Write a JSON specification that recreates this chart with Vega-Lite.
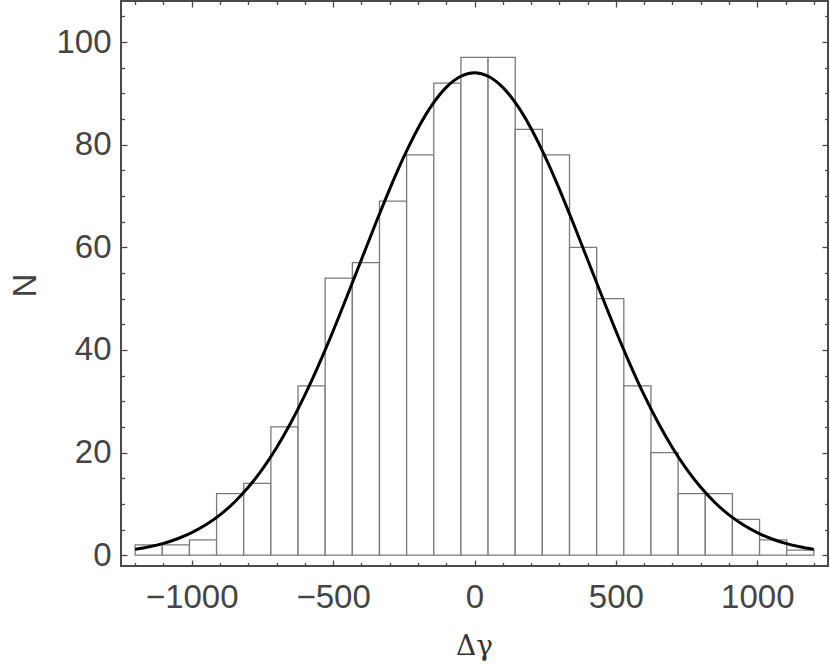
{
  "$schema": "https://vega.github.io/schema/vega-lite/v6.json",
  "width": 707,
  "height": 565,
  "autosize": {"type": "none"},
  "padding": {"left": 121, "top": 1, "right": 2, "bottom": 99},
  "background": "white",
  "config": {
    "view": {"stroke": "#4a4a4a", "strokeWidth": 2},
    "axis": {
      "grid": false,
      "domain": false,
      "tickColor": "#4a4a4a",
      "tickWidth": 1.3,
      "labelFont": "Liberation Sans",
      "labelFontSize": 33,
      "labelColor": "#444444",
      "labelOverlap": false,
      "labelFlush": false,
      "labelBound": false,
      "titleFontWeight": "normal"
    },
    "axisBottom": {
      "titleFont": "DejaVu Serif",
      "titleFontSize": 28,
      "titleColor": "#333333"
    },
    "axisLeft": {
      "titleFont": "Liberation Sans",
      "titleFontSize": 33,
      "titleColor": "#444444"
    }
  },
  "datasets": {
    "bins": [
      {"x0": -1200, "x1": -1104, "n": 2},
      {"x0": -1104, "x1": -1008, "n": 2},
      {"x0": -1008, "x1": -912, "n": 3},
      {"x0": -912, "x1": -816, "n": 12},
      {"x0": -816, "x1": -720, "n": 14},
      {"x0": -720, "x1": -624, "n": 25},
      {"x0": -624, "x1": -528, "n": 33},
      {"x0": -528, "x1": -432, "n": 54},
      {"x0": -432, "x1": -336, "n": 57},
      {"x0": -336, "x1": -240, "n": 69},
      {"x0": -240, "x1": -144, "n": 78},
      {"x0": -144, "x1": -48, "n": 92},
      {"x0": -48, "x1": 48, "n": 97},
      {"x0": 48, "x1": 144, "n": 97},
      {"x0": 144, "x1": 240, "n": 83},
      {"x0": 240, "x1": 336, "n": 78},
      {"x0": 336, "x1": 432, "n": 60},
      {"x0": 432, "x1": 528, "n": 50},
      {"x0": 528, "x1": 624, "n": 33},
      {"x0": 624, "x1": 720, "n": 20},
      {"x0": 720, "x1": 816, "n": 12},
      {"x0": 816, "x1": 912, "n": 12},
      {"x0": 912, "x1": 1008, "n": 7},
      {"x0": 1008, "x1": 1104, "n": 3},
      {"x0": 1104, "x1": 1200, "n": 1}
    ],
    "curve": [
      {"x": -1200, "y": 1.14},
      {"x": -1150, "y": 1.64},
      {"x": -1100, "y": 2.31},
      {"x": -1050, "y": 3.21},
      {"x": -1000, "y": 4.39},
      {"x": -950, "y": 5.92},
      {"x": -900, "y": 7.86},
      {"x": -850, "y": 10.28},
      {"x": -800, "y": 13.23},
      {"x": -750, "y": 16.78},
      {"x": -700, "y": 20.95},
      {"x": -650, "y": 25.76},
      {"x": -600, "y": 31.2},
      {"x": -550, "y": 37.21},
      {"x": -500, "y": 43.7},
      {"x": -450, "y": 50.55},
      {"x": -400, "y": 57.58},
      {"x": -350, "y": 64.59},
      {"x": -300, "y": 71.35},
      {"x": -250, "y": 77.62},
      {"x": -200, "y": 83.16},
      {"x": -150, "y": 87.74},
      {"x": -100, "y": 91.16},
      {"x": -50, "y": 93.28},
      {"x": 0, "y": 94},
      {"x": 50, "y": 93.28},
      {"x": 100, "y": 91.16},
      {"x": 150, "y": 87.74},
      {"x": 200, "y": 83.16},
      {"x": 250, "y": 77.62},
      {"x": 300, "y": 71.35},
      {"x": 350, "y": 64.59},
      {"x": 400, "y": 57.58},
      {"x": 450, "y": 50.55},
      {"x": 500, "y": 43.7},
      {"x": 550, "y": 37.21},
      {"x": 600, "y": 31.2},
      {"x": 650, "y": 25.76},
      {"x": 700, "y": 20.95},
      {"x": 750, "y": 16.78},
      {"x": 800, "y": 13.23},
      {"x": 850, "y": 10.28},
      {"x": 900, "y": 7.86},
      {"x": 950, "y": 5.92},
      {"x": 1000, "y": 4.39},
      {"x": 1050, "y": 3.21},
      {"x": 1100, "y": 2.31},
      {"x": 1150, "y": 1.64},
      {"x": 1200, "y": 1.14}
    ]
  },
  "resolve": {"axis": {"x": "independent", "y": "independent"}},
  "layer": [
    {
      "data": {"name": "bins"},
      "mark": {"type": "rect", "fill": "white", "stroke": "#7a7a7a", "strokeWidth": 1.3},
      "encoding": {
        "x": {
          "field": "x0", "type": "quantitative",
          "scale": {"domain": [-1250, 1250], "nice": false, "zero": false},
          "axis": {
            "orient": "bottom",
            "format": "d",
            "values": [-1200, -1100, -1000, -900, -800, -700, -600, -500, -400, -300, -200, -100, 0, 100, 200, 300, 400, 500, 600, 700, 800, 900, 1000, 1100, 1200],
            "labelExpr": "datum.value % 500 === 0 ? datum.label : ''",
            "tickSize": {"condition": {"test": "datum.value % 500 === 0", "value": -6}, "value": -3.5},
            "labelPadding": 21,
            "title": "Δγ",
            "titleFont": "DejaVu Serif",
            "titleFontSize": 28,
            "titleBaseline": "alphabetic",
            "titleX": 353,
            "titleY": 88
          }
        },
        "x2": {"field": "x1"},
        "y": {
          "field": "n", "type": "quantitative",
          "scale": {"domain": [-2.1, 108], "nice": false, "zero": false},
          "axis": {
            "orient": "left",
            "values": [0, 5, 10, 15, 20, 25, 30, 35, 40, 45, 50, 55, 60, 65, 70, 75, 80, 85, 90, 95, 100, 105],
            "labelExpr": "datum.value % 20 === 0 ? datum.label : ''",
            "tickSize": {"condition": {"test": "datum.value % 20 === 0", "value": -6}, "value": -3.5},
            "labelPadding": 16,
            "title": "N",
            "titleAngle": -90,
            "titleBaseline": "alphabetic",
            "titleX": -86,
            "titleY": 284
          }
        },
        "y2": {"datum": 0}
      }
    },
    {
      "data": {"name": "curve"},
      "mark": {"type": "line", "color": "black", "strokeWidth": 3, "interpolate": "monotone"},
      "encoding": {
        "x": {
          "field": "x", "type": "quantitative",
          "axis": {
            "orient": "top",
            "values": [-1200, -1100, -1000, -900, -800, -700, -600, -500, -400, -300, -200, -100, 0, 100, 200, 300, 400, 500, 600, 700, 800, 900, 1000, 1100, 1200],
            "labels": false,
            "tickSize": {"condition": {"test": "datum.value % 500 === 0", "value": -6}, "value": -3.5},
            "title": null
          }
        },
        "y": {
          "field": "y", "type": "quantitative",
          "axis": {
            "orient": "right",
            "values": [0, 5, 10, 15, 20, 25, 30, 35, 40, 45, 50, 55, 60, 65, 70, 75, 80, 85, 90, 95, 100, 105],
            "labels": false,
            "tickSize": {"condition": {"test": "datum.value % 20 === 0", "value": -6}, "value": -3.5},
            "title": null
          }
        }
      }
    }
  ]
}
